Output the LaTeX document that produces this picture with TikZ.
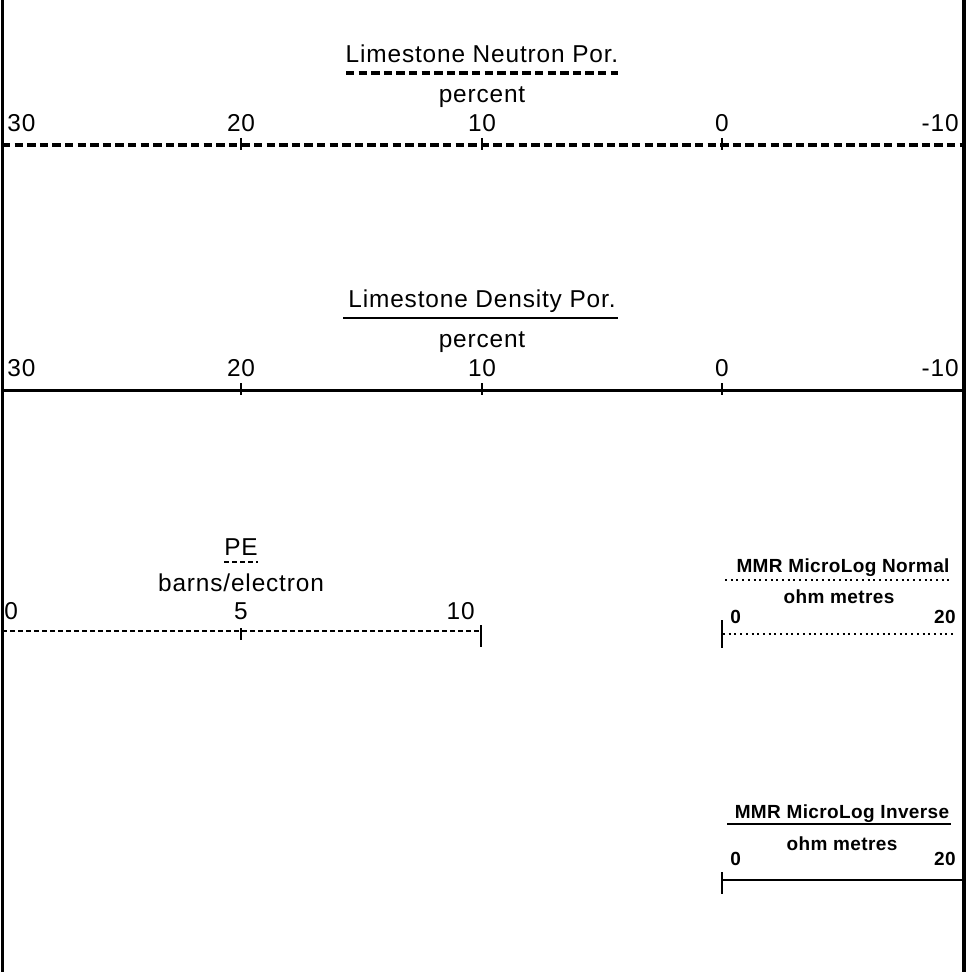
\documentclass[tikz,border=0pt]{standalone}
\usepackage{fontspec}
\newfontfamily\hdrfont[LetterSpace=3.5]{Liberation Sans}
\newfontfamily\mmrfont[LetterSpace=2]{Liberation Sans}
\begin{document}
\begin{tikzpicture}[x=0.5pt,y=-0.5pt,line cap=butt,
		lbl/.style={inner sep=0pt,font=\hdrfont\fontsize{12.2}{14}\selectfont},
		mmr/.style={inner sep=0pt,font=\mmrfont\bfseries\fontsize{9.5}{11}\selectfont},
		heavydash/.style={line width=1.6pt,dash pattern=on 4.2pt off 2.1pt},
		finedash/.style={line width=0.75pt,dash pattern=on 2.5pt off 1.5pt},
		dotline/.style={line width=1.1pt,dash pattern=on 1pt off 1.85pt},
		tick/.style={line width=1pt}]
	\useasboundingbox (0,0) rectangle (971,972);
	\def\xl{2} \def\xr{964} % track edges
	\def\yn{145} \def\yd{390} \def\yp{631}
	\draw[line width=1.5pt] (\xl,0)--(\xl,972);
	\draw[line width=2.2pt] (\xr,0)--(\xr,972);
	% neutron porosity
	\node[lbl,anchor=base] (ntitle) at (482,63) {Limestone Neutron Por.};
	\draw[heavydash] (346,73)--(618,73);
	\node[lbl,anchor=base] (nunit) at (482,103) {percent};
	\draw[heavydash] (\xl,\yn)--(\xr,\yn);
	\node[lbl,anchor=base west] (n30) at (7,132) {30};
	\foreach \x/\v in {241/20,482/10,722/0}{
		\draw[tick] (\x,\yn-7)--(\x,\yn+5);
		\node[lbl,anchor=base] (n\v) at (\x,132) {\v};
	}
	\node[lbl,anchor=base east] (nm10) at (959,132) {-10};
	% density porosity
	\node[lbl,anchor=base] (dtitle) at (482,308) {Limestone Density Por.};
	\draw[line width=1.3pt] (343,318)--(618,318);
	\node[lbl,anchor=base] (dunit) at (482,348) {percent};
	\draw[line width=1.5pt] (\xl,\yd)--(\xr,\yd);
	\node[lbl,anchor=base west] (d30) at (7,377) {30};
	\foreach \x/\v in {241/20,482/10,722/0}{
		\draw[tick] (\x,\yd-7)--(\x,\yd+5);
		\node[lbl,anchor=base] (d\v) at (\x,377) {\v};
	}
	\node[lbl,anchor=base east] (dm10) at (959,377) {-10};
	% PE
	\node[lbl,anchor=base] (petitle) at (241,555) {PE};
	\draw[finedash] (224,562)--(258,562);
	\node[lbl,anchor=base] (peunit) at (241,591) {barns/electron};
	\draw[finedash] (\xl,\yp)--(481,\yp);
	\draw[line width=0.75pt] (241,\yp-3)--(241,\yp+9);
	\draw[line width=0.9pt] (481,\yp-6)--(481,\yp+16);
	\node[lbl,anchor=base west] (pe0) at (4,619) {0};
	\node[lbl,anchor=base] (pe5) at (241,619) {5};
	\node[lbl,anchor=base east] (pe10) at (475,619) {10};
	% micrologs
	\node[mmr,anchor=base] (nortitle) at (843,572) {MMR MicroLog Normal};
	\draw[dotline] (725,580)--(952,580);
	\node[mmr,anchor=base] (norunit) at (839,603) {ohm metres};
	\node[mmr,anchor=base west] (nor0) at (730,623) {0};
	\node[mmr,anchor=base east] (nor20) at (956,623) {20};
	\draw[dotline] (723,634)--(955,634);
	\draw[line width=0.9pt] (722,620)--(722,648);
	\node[mmr,anchor=base] (invtitle) at (842,818) {MMR MicroLog Inverse};
	\draw[line width=1pt] (727,824)--(951,824);
	\node[mmr,anchor=base] (invunit) at (842,850) {ohm metres};
	\node[mmr,anchor=base west] (inv0) at (730,865) {0};
	\node[mmr,anchor=base east] (inv20) at (956,865) {20};
	\draw[line width=0.9pt] (722,880)--(\xr,880);
	\draw[line width=0.9pt] (722,872)--(722,894);
\end{tikzpicture}
\end{document}
